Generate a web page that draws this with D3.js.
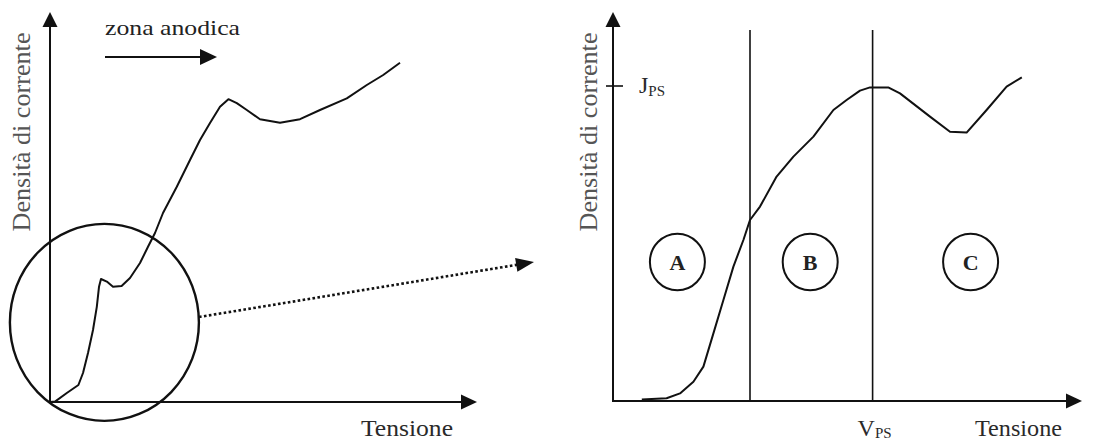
<!DOCTYPE html>
<html><head><meta charset="utf-8">
<script src="https://cdn.jsdelivr.net/npm/d3@7"></script>
<style>
body{margin:0;background:#fff}
svg{display:block}
text{font-family:"Liberation Serif","Times New Roman",Times,serif}
</style>
</head><body>
<svg id="c" width="1108" height="441"></svg>
<script>
// ---- data (arbitrary units) ----
const leftV = [0,1.25,4.2,7.1,8.25,9.5,10.75,11.7,12.25,12.75,14.2,15.75,17.9,20,22.5,24.5,26.25,28.25,31.7,35,37.5,40,42.5,44.6,46.7,49.2,52.5,57.5,62.5,67.5,74.2,79.2,83.3,87.5];
const leftJ = [0,0.1,2.25,4.25,7.25,12.25,18,23.8,28.8,30.75,30.1,28.8,29,31,34.75,38.8,42.25,47.25,53.8,60.5,65.5,69.75,73.8,75.7,74.7,73,70.7,69.8,70.7,73,75.9,79.25,81.75,84.8];
const rightV = [7.2,13.4,16.75,20.1,22.6,25.1,27.6,30.1,32.6,34.25,36.75,40.9,45.1,50.1,55.1,58.4,61.75,64.25,68.8,71.75,79.25,84.25,88.4,93.4,98.4,102.2];
const rightJ = [0.4,0.7,1.9,4.8,8.6,16.9,25.25,33.6,40.25,45.25,48.6,56.1,61.1,66.1,72.75,75.25,77.6,78.4,78.4,76.9,71.1,67.3,67.1,72.75,78.6,80.9];
const regionLabels = ["A","B","C"];
const regionCentersV = [16.1, 49.3, 89.4];
const regionBoundsV = [34.25, 64.9];   // A|B boundary and V_PS
const jPS = 78.75;
const xLabel = "Tensione";
const yLabel = "Densità di corrente";
const zoneLabel = "zona anodica";

// ---- scales ----
const xL = d3.scaleLinear().domain([0,100]).range([50,450]);
const yL = d3.scaleLinear().domain([0,100]).range([402,2]);
const xR = d3.scaleLinear().domain([0,100]).range([613,1013]);
const yR = d3.scaleLinear().domain([0,100]).range([401,1]);

const svg = d3.select("#c");
const ink = "#111";

function head(g, x, y, ang, L, W) {
  const c = Math.cos(ang), s = Math.sin(ang);
  const bx = x - L*c, by = y - L*s;
  g.append("path")
    .attr("d", `M${x},${y}L${bx - W*s},${by + W*c}L${bx + W*s},${by - W*c}Z`)
    .attr("fill", ink);
}

function axes(x, y, xMax, yMax) {
  const g = svg.append("g");
  g.append("line").attr("x1", x(0)).attr("y1", y(0)).attr("x2", x(xMax)-8).attr("y2", y(0))
    .attr("stroke", ink).attr("stroke-width", 2);
  g.append("line").attr("x1", x(0)).attr("y1", y(0)+1).attr("x2", x(0)).attr("y2", y(yMax)+8)
    .attr("stroke", ink).attr("stroke-width", 2);
  head(g, x(xMax), y(0), 0, 16, 7.5);
  head(g, x(0), y(yMax), -Math.PI/2, 15, 7.5);
}

// ---- left panel ----
axes(xL, yL, 106.75, 97.5);
const lineL = d3.line().x((d,i)=>xL(leftV[i])).y((d,i)=>yL(leftJ[i]));
svg.append("path").attr("d", lineL(leftV)).attr("fill","none")
  .attr("stroke", ink).attr("stroke-width", 2).attr("stroke-linejoin","round");

// zoom circle (slightly elliptical in the scanned figure)
svg.append("ellipse").attr("cx", xL(13.6)).attr("cy", yL(19.9)).attr("rx", 94.5).attr("ry", 98.5)
  .attr("fill","none").attr("stroke", ink).attr("stroke-width", 2.4);

// dotted arrow
{
  const x1 = xL(37.25), y1 = yL(21.25), x2 = xL(121), y2 = yL(35);
  const ang = Math.atan2(y2-y1, x2-x1);
  svg.append("line").attr("x1", x1).attr("y1", y1)
    .attr("x2", x2 - 16*Math.cos(ang)).attr("y2", y2 - 16*Math.sin(ang))
    .attr("stroke", ink).attr("stroke-width", 2.6).attr("stroke-dasharray","2.6,2.4");
  head(svg, x2, y2, ang, 18, 7);
}

// zona anodica
svg.append("text").attr("x", xL(13.75)).attr("y", yL(91.75)).attr("font-size", 22)
  .attr("fill", "#222").attr("textLength", 135).attr("lengthAdjust","spacingAndGlyphs").text(zoneLabel);
svg.append("line").attr("x1", xL(13.75)).attr("y1", yL(86.25)).attr("x2", xL(41.75)-10).attr("y2", yL(86.25))
  .attr("stroke", ink).attr("stroke-width", 2);
head(svg, xL(41.75), yL(86.25), 0, 17, 8);

// labels left
svg.append("text").attr("transform", `translate(30,132) rotate(-90)`).attr("text-anchor","middle")
  .attr("font-size", 25).attr("fill", "#555").attr("textLength", 199).attr("lengthAdjust","spacingAndGlyphs").text(yLabel);
svg.append("text").attr("x", 361).attr("y", 436).attr("font-size", 24).attr("fill", "#2a2a2a")
  .attr("textLength", 92).attr("lengthAdjust","spacingAndGlyphs").text(xLabel);

// ---- right panel ----
axes(xR, yR, 117.25, 97.25);
regionBoundsV.forEach(v => {
  svg.append("line").attr("x1", xR(v)).attr("x2", xR(v)).attr("y1", yR(0)).attr("y2", yR(92.75))
    .attr("stroke", ink).attr("stroke-width", 1.6);
});
const lineR = d3.line().x((d,i)=>xR(rightV[i])).y((d,i)=>yR(rightJ[i]));
svg.append("path").attr("d", lineR(rightV)).attr("fill","none")
  .attr("stroke", ink).attr("stroke-width", 2).attr("stroke-linejoin","round");

// J_PS tick
svg.append("line").attr("x1", xR(0)-7).attr("x2", xR(0)+10).attr("y1", yR(jPS)).attr("y2", yR(jPS))
  .attr("stroke", ink).attr("stroke-width", 1.6);
{
  const t = svg.append("text").attr("x", 639).attr("y", yR(jPS)+7).attr("font-size", 24).attr("fill","#2a2a2a");
  t.append("tspan").text("J");
  t.append("tspan").attr("font-size", 15).attr("dy", 3).text("PS");
}
{
  const t = svg.append("text").attr("x", xR(regionBoundsV[1])-15).attr("y", 436).attr("font-size", 24).attr("fill","#2a2a2a");
  t.append("tspan").text("V");
  t.append("tspan").attr("font-size", 15).attr("dy", 2).text("PS");
}
// region circles
regionLabels.forEach((lab,i) => {
  const cx = xR(regionCentersV[i]), cy = yR(34.75);
  svg.append("ellipse").attr("cx", cx).attr("cy", cy).attr("rx", 27.5).attr("ry", 28.3)
    .attr("fill","none").attr("stroke", ink).attr("stroke-width", 2);
  svg.append("text").attr("x", cx).attr("y", cy + 7.5).attr("text-anchor","middle")
    .attr("font-size", 22).attr("font-weight","bold").attr("fill","#222").text(lab);
});
svg.append("text").attr("transform", `translate(597,132) rotate(-90)`).attr("text-anchor","middle")
  .attr("font-size", 25).attr("fill", "#555").attr("textLength", 199).attr("lengthAdjust","spacingAndGlyphs").text(yLabel);
svg.append("text").attr("x", 975).attr("y", 436).attr("font-size", 24).attr("fill", "#2a2a2a")
  .attr("textLength", 87).attr("lengthAdjust","spacingAndGlyphs").text(xLabel);
</script>
</body></html>
